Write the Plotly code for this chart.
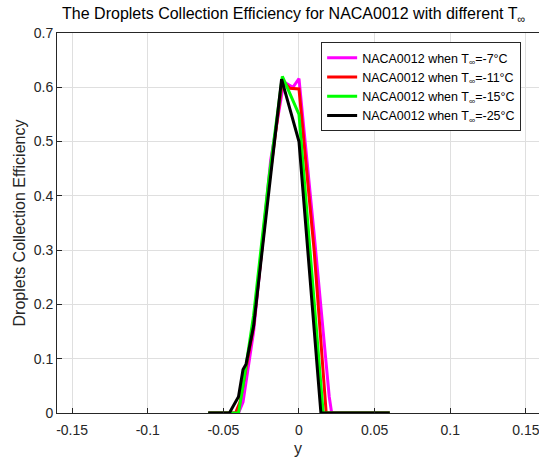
import plotly.graph_objects as go

# Data
x_m7 = [-0.06, -0.040, -0.037, -0.030, -0.0187, -0.010, -0.004, 0.0, 0.010, 0.020, 0.0216, 0.06]
y_m7 = [0.0, 0.0, 0.02, 0.15, 0.466, 0.610, 0.600, 0.616, 0.33, 0.03, 0.0, 0.0]

x_m11 = [-0.06, -0.042, -0.039, -0.035, -0.030, -0.020, -0.011, -0.006, 0.0, 0.010, 0.018, 0.06]
y_m11 = [0.0, 0.0, 0.02, 0.08, 0.16, 0.42, 0.612, 0.598, 0.597, 0.30, 0.0, 0.0]

x_m15 = [-0.06, -0.040, -0.037, -0.030, -0.020, -0.011, 0.0, 0.008, 0.016, 0.06]
y_m15 = [0.0, 0.0, 0.05, 0.18, 0.43, 0.620, 0.550, 0.28, 0.0, 0.0]

x_m25 = [-0.06, -0.046, -0.044, -0.040, -0.037, -0.035, -0.030, -0.020, -0.0115, 0.0, 0.0145, 0.06]
y_m25 = [0.0, 0.0, 0.01, 0.03, 0.08, 0.09, 0.16, 0.40, 0.615, 0.500, 0.0, 0.0]

names = ["NACA0012 when T<sub>∞</sub>=-7°C", "NACA0012 when T<sub>∞</sub>=-11°C",
         "NACA0012 when T<sub>∞</sub>=-15°C", "NACA0012 when T<sub>∞</sub>=-25°C"]
colors = ["#FF00FF", "#FF0000", "#00FF00", "#000000"]
series = [(x_m7, y_m7), (x_m11, y_m11), (x_m15, y_m15), (x_m25, y_m25)]

x_ticks = [-0.15, -0.1, -0.05, 0, 0.05, 0.1, 0.15]
x_tick_labels = ["-0.15", "-0.1", "-0.05", "0", "0.05", "0.1", "0.15"]
y_ticks = [0, 0.1, 0.2, 0.3, 0.4, 0.5, 0.6, 0.7]
y_tick_labels = ["0", "0.1", "0.2", "0.3", "0.4", "0.5", "0.6", "0.7"]

fig = go.Figure()
for (xs, ys), n, c in zip(series, names, colors):
    fig.add_trace(go.Scatter(x=xs, y=ys, mode="lines", name=n,
                             line=dict(color=c, width=3)))

font = "Liberation Sans, Arial, sans-serif"
fig.update_layout(
    width=539, height=462,
    margin=dict(l=57, r=0, t=33, b=49),
    paper_bgcolor="white", plot_bgcolor="white",
    font=dict(family=font, size=14, color="#262626"),
    title=dict(text="The Droplets Collection Efficiency for NACA0012 with different T<sub>∞</sub>",
               x=0.545, xanchor="center", y=0.97, yanchor="middle",
               font=dict(size=16, color="#000000")),
    showlegend=True,
    legend=dict(x=0.548, y=0.976, xanchor="left", yanchor="top",
                bgcolor="white", bordercolor="#262626", borderwidth=1,
                font=dict(size=12.5, color="#000000"), tracegroupgap=0),
    xaxis=dict(range=[-0.16, 0.1587], tickvals=x_ticks, ticktext=x_tick_labels,
               showgrid=True, gridcolor="#DFDFDF", zeroline=False,
               showline=True, linecolor="#262626", linewidth=1, mirror=True,
               ticks="inside", ticklen=5, tickcolor="#262626",
               ticklabeloverflow="allow", ticklabelstandoff=4,
               title=dict(text="y", font=dict(size=16), standoff=6)),
    yaxis=dict(range=[0, 0.7], tickvals=y_ticks, ticktext=y_tick_labels,
               showgrid=True, gridcolor="#DFDFDF", zeroline=False,
               showline=True, linecolor="#262626", linewidth=1, mirror=True,
               ticks="inside", ticklen=5, tickcolor="#262626",
               title=dict(text="Droplets Collection Efficiency", font=dict(size=16), standoff=4)),
)

fig.write_html("out.html")
